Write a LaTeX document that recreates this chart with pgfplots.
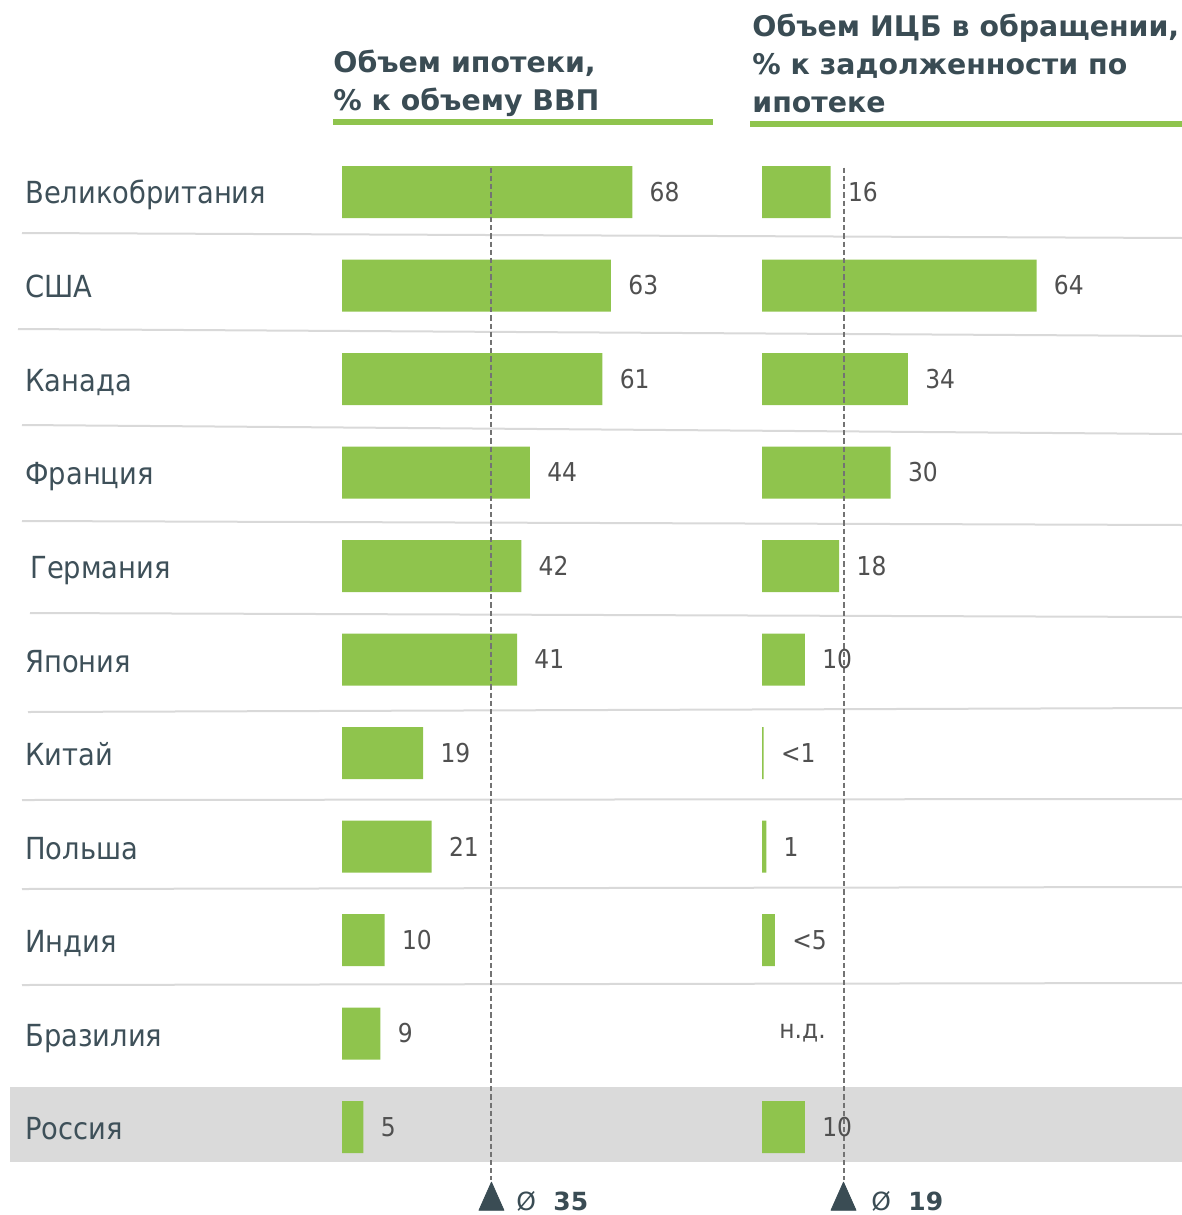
\documentclass[border=0pt]{standalone}
\usepackage{fontspec}
\setmainfont{DejaVu Sans}
\newfontfamily\condfont{DejaVu Sans Condensed}
\usepackage{pgfplots}
\pgfplotsset{compat=1.18}
\usepackage{pgfplotstable}
\definecolor{barg}{RGB}{143,196,77}
\definecolor{ttl}{RGB}{58,76,84}
\definecolor{ctry}{RGB}{62,80,89}
\definecolor{num}{RGB}{80,80,80}
\definecolor{sep}{RGB}{217,217,217}
\definecolor{band}{RGB}{218,218,218}
\definecolor{dashc}{RGB}{115,115,115}

\pgfplotstableread{
y v lab
0 68 68
1 63 63
2 61 61
3 44 44
4 42 42
5 41 41
6 19 19
7 21 21
8 10 10
9 9 9
10 5 5
}\leftdata

\pgfplotstableread{
y v lab
0 16 16
1 64 64
2 34 34
3 30 30
4 18 18
5 10 10
6 0.4 {<1}
7 1 1
8 3 {<5}
10 10 10
}\rightdata

\newcommand\titlefont{\fontsize{14.2}{17}\selectfont\bfseries}
\newcommand\ctryfont{\condfont\fontsize{15.2}{18}\selectfont}
\newcommand\numfont{\condfont\fontsize{13}{15}\selectfont}

\pgfplotsset{
  panel/.style={
    anchor=north west, scale only axis, height=514.25pt,
    ymin=-0.5, ymax=10.5, y dir=reverse, hide axis, clip=false,
  },
  barplot/.style={
    xbar, bar width=0.556, bar shift=0pt, fill=barg, draw=none,
    point meta=explicit symbolic, nodes near coords,
    nodes near coords style={anchor=west, xshift=8.5pt, inner sep=0pt, font=\numfont, text=num},
  },
  avgline/.style={dashc, line width=1pt, dash pattern=on 2.6pt off 1.5pt, mark=none},
  avgmark/.style={only marks, mark=triangle*, mark size=7.2pt, mark options={fill=ttl, draw=ttl, line join=round, yscale=1.3}},
}

\begin{document}
\begin{tikzpicture}[x=0.5pt,y=-0.5pt]
\path[use as bounding box] (0,0) rectangle (1182,1215);
% Russia band
\fill[band] (10,1087) rectangle (1182,1162);
% separators
\begin{scope}[sep, line width=1pt]
\draw (22,233) -- (1182,238);
\draw (18,329) -- (1182,336);
\draw (22,425) -- (1182,434);
\draw (22,521) -- (1182,525);
\draw (30,613) -- (1182,617);
\draw (28,712) -- (1182,708);
\draw (22,800) -- (1182,799);
\draw (22,889) -- (1182,887);
\draw (22,985) -- (1182,983);
\end{scope}
% titles
\node[anchor=base west, inner sep=0pt, text=ttl, font=\titlefont] at (333,72) {Объем ипотеки,};
\node[anchor=base west, inner sep=0pt, text=ttl, font=\titlefont] at (333,110) {\% к объему ВВП};
\node[anchor=base west, inner sep=0pt, text=ttl, font=\titlefont] at (752,36) {Объем ИЦБ в обращении,};
\node[anchor=base west, inner sep=0pt, text=ttl, font=\titlefont] at (752,74) {\% к задолженности по};
\node[anchor=base west, inner sep=0pt, text=ttl, font=\titlefont] at (752,112) {ипотеке};
\fill[barg] (333,119) rectangle (713,124.5);
\fill[barg] (750,121) rectangle (1182,126.5);
% country labels
\begin{scope}[every node/.style={anchor=base west, inner sep=0pt, text=ctry, font=\ctryfont}]
\node at (25,203) {Великобритания};
\node at (25,297) {США};
\node at (25,391) {Канада};
\node at (25,484) {Франция};
\node at (30,578) {Германия};
\node at (25,672) {Япония};
\node at (25,765) {Китай};
\node at (25,859) {Польша};
\node at (25,952) {Индия};
\node at (25,1046) {Бразилия};
\node at (25,1139) {Россия};
\end{scope}
% left panel
\begin{axis}[panel, at={(171pt,-72.625pt)}, width=185.745pt, xmin=0, xmax=87]
\addplot[barplot] table[x=v, y=y, meta=lab] {\leftdata};
\addplot[avgline] coordinates {(35,-0.26) (35,10.57)};
\addplot[avgmark] coordinates {(35,10.79)};
\end{axis}
% right panel
\begin{axis}[panel, at={(381pt,-72.625pt)}, width=210.21pt, xmin=0, xmax=98]
\addplot[barplot] table[x=v, y=y, meta=lab] {\rightdata};
\node[anchor=west, xshift=8.5pt, inner sep=0pt, font=\numfont, text=num] at (axis cs:0,9) {н.д.};
\addplot[avgline] coordinates {(19,-0.26) (19,10.57)};
\addplot[avgmark] coordinates {(19,10.79)};
\end{axis}
% average labels
\node[anchor=base west, inner sep=0pt, text=ttl, font=\fontsize{12.5}{14}\selectfont] at (516,1210) {Ø};
\node[anchor=base west, inner sep=0pt, text=ttl, font=\fontsize{12.5}{14}\selectfont\bfseries] at (553,1210) {35};
\node[anchor=base west, inner sep=0pt, text=ttl, font=\fontsize{12.5}{14}\selectfont] at (871,1210) {Ø};
\node[anchor=base west, inner sep=0pt, text=ttl, font=\fontsize{12.5}{14}\selectfont\bfseries] at (908,1210) {19};
\end{tikzpicture}
\end{document}
